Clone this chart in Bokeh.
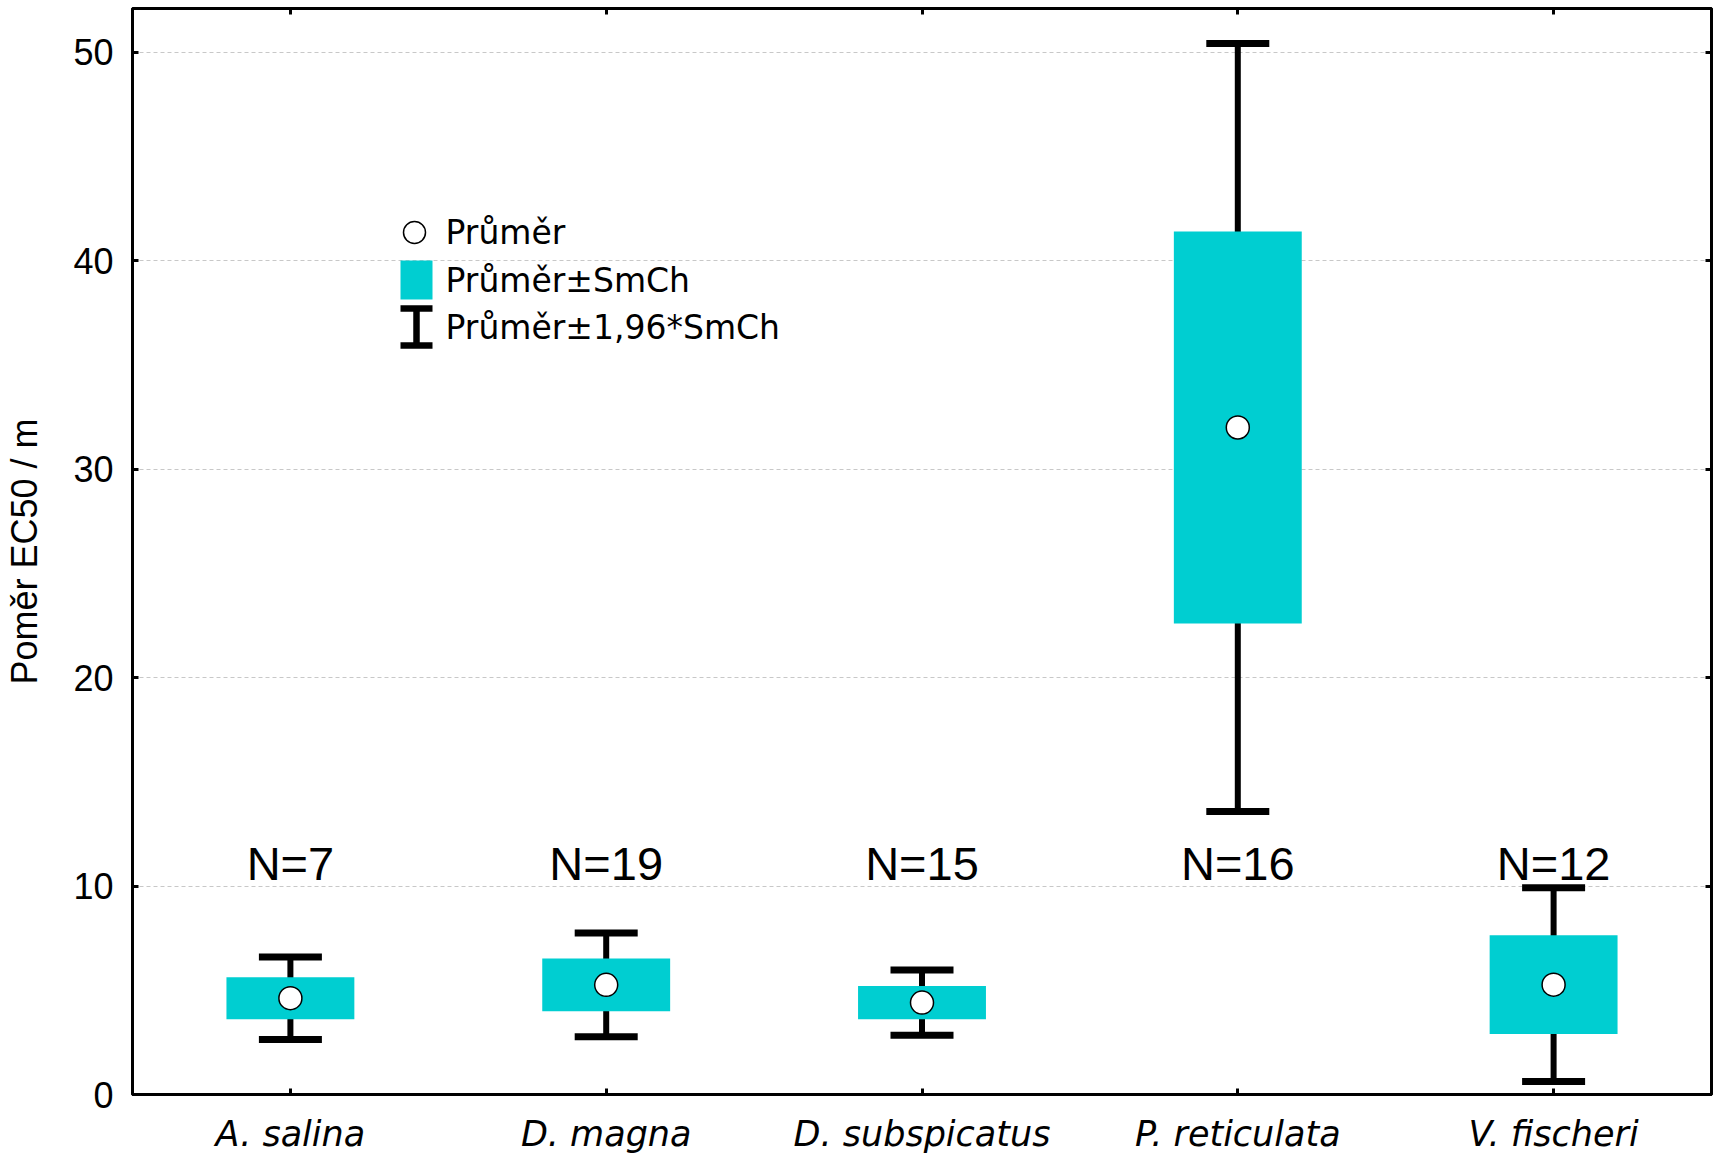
from bokeh.plotting import figure
from bokeh.models import (Range1d, FixedTicker, LinearAxis,
                          Whisker, TeeHead, ColumnDataSource)
from bokeh.core.properties import value
from bokeh.embed import file_html
from bokeh.resources import INLINE

# EC50 ratio per test organism: mean, standard error and sample size
species = ["A. salina", "D. magna", "D. subspicatus", "P. reticulata", "V. fischeri"]
mean = [4.62, 5.26, 4.41, 32.0, 5.27]
se = [1.01, 1.27, 0.80, 9.40, 2.37]
n_obs = [7, 19, 15, 16, 12]
y_ticks = [0, 10, 20, 30, 40, 50]

legend_labels = ["Průměr", "Průměr±SmCh", "Průměr±1,96*SmCh"]

CYAN = "#00CED1"
W, H = 1717, 1156
ML, MR, MT, MB = 132, 6, 8, 62
FW, FH = W - ML - MR, H - MT - MB

pos = list(range(1, len(species) + 1))
src = ColumnDataSource(dict(
    x=pos,
    mean=mean,
    lo1=[m - s for m, s in zip(mean, se)],
    hi1=[m + s for m, s in zip(mean, se)],
    lo2=[m - 1.96 * s for m, s in zip(mean, se)],
    hi2=[m + 1.96 * s for m, s in zip(mean, se)],
    ny=[11.1] * len(species),
    ntext=[f"N={n}" for n in n_obs],
))

p = figure(width=W, height=H, output_backend="svg", toolbar_location=None,
           x_range=Range1d(0.5, len(species) + 0.5), y_range=Range1d(0, 52.1),
           min_border_left=ML, min_border_right=MR, min_border_top=MT,
           min_border_bottom=MB, background_fill_color="white",
           border_fill_color="white")
p.outline_line_color = "black"
p.outline_line_width = 3

# pixel-like ranges for the hand-built key
p.extra_x_ranges = {"px": Range1d(0, FW)}
p.extra_y_ranges = {"py": Range1d(0, FH)}

# grid
p.xgrid.grid_line_color = None
p.ygrid.ticker = FixedTicker(ticks=y_ticks)
p.ygrid.grid_line_color = "#c8c8c8"
p.ygrid.grid_line_dash = "4 3"
p.ygrid.grid_line_width = 1

def style_axis(ax):
    ax.axis_line_width = 3
    ax.axis_line_color = "black"
    ax.major_tick_in = 6
    ax.major_tick_out = 0
    ax.major_tick_line_width = 3
    ax.major_tick_line_color = "black"
    ax.minor_tick_line_color = None

# bottom axis with species names
xa = p.xaxis[0]
xa.ticker = FixedTicker(ticks=pos)
xa.major_label_overrides = {i: s for i, s in zip(pos, species)}
xa.major_label_text_font = "DejaVu Sans"
xa.major_label_text_font_style = "italic"
xa.major_label_text_font_size = "35px"
xa.major_label_text_color = "black"
xa.major_label_standoff = 19
style_axis(xa)

# left axis
ya = p.yaxis[0]
ya.ticker = FixedTicker(ticks=y_ticks)
ya.major_label_text_font = "Liberation Sans"
ya.major_label_text_font_size = "36px"
ya.major_label_text_color = "black"
ya.major_label_standoff = 19
ya.axis_label = "Poměr EC50 / m"
ya.axis_label_text_font = "Liberation Sans"
ya.axis_label_text_font_size = "36px"
ya.axis_label_text_font_style = "normal"
ya.axis_label_text_color = "black"
ya.axis_label_standoff = 25
style_axis(ya)

# mirrored top and right axes (ticks only)
top = LinearAxis(ticker=FixedTicker(ticks=pos), major_label_text_font_size="0px",
                 major_label_standoff=0,
                 major_label_overrides={i: "" for i in pos})
style_axis(top)
p.add_layout(top, "above")
right = LinearAxis(ticker=FixedTicker(ticks=y_ticks), major_label_text_font_size="0px",
                   major_label_standoff=0,
                   major_label_overrides={t: "" for t in y_ticks})
style_axis(right)
p.add_layout(right, "right")

# mean ± 1.96*SE whiskers under the boxes
wh = Whisker(source=src, base="x", lower="lo2", upper="hi2", dimension="height",
             line_width=6, line_color="black", level="underlay",
             upper_head=TeeHead(size=63, line_width=7, line_color="black"),
             lower_head=TeeHead(size=63, line_width=7, line_color="black"))
p.add_layout(wh)

# mean ± SE boxes
p.vbar(x="x", width=0.405, bottom="lo1", top="hi1", source=src,
       fill_color=CYAN, line_color=None)

# means
p.scatter(x="x", y="mean", source=src, marker="circle", size=23,
          fill_color="white", line_color="black", line_width=1.5)

# sample sizes
p.text(x="x", y="ny", text="ntext", source=src, text_align="center",
       text_baseline="alphabetic", text_font=value("Liberation Sans"),
       text_font_size="47px", text_color="black")

# key
kx = 284
p.scatter(x=[kx - 2], y=[862], marker="circle", size=22, fill_color="white",
          line_color="black", line_width=1.5, x_range_name="px", y_range_name="py")
p.rect(x=[kx], y=[814.5], width=32, height=39, fill_color=CYAN, line_color=None,
       x_range_name="px", y_range_name="py")
p.segment(x0=[kx], y0=[749], x1=[kx], y1=[786], line_width=6.5, line_color="black",
          x_range_name="px", y_range_name="py")
p.segment(x0=[kx - 16, kx - 16], y0=[786, 749], x1=[kx + 16, kx + 16], y1=[786, 749],
          line_width=6.7, line_color="black", x_range_name="px", y_range_name="py")
p.text(x=[313, 313, 313], y=[862, 814, 767], text=legend_labels,
       text_font=value("DejaVu Sans"), text_font_size="33px", text_color="black",
       text_baseline="alphabetic", text_align="left",
       x_range_name="px", y_range_name="py")

open("out.html", "w").write(file_html(p, INLINE))
